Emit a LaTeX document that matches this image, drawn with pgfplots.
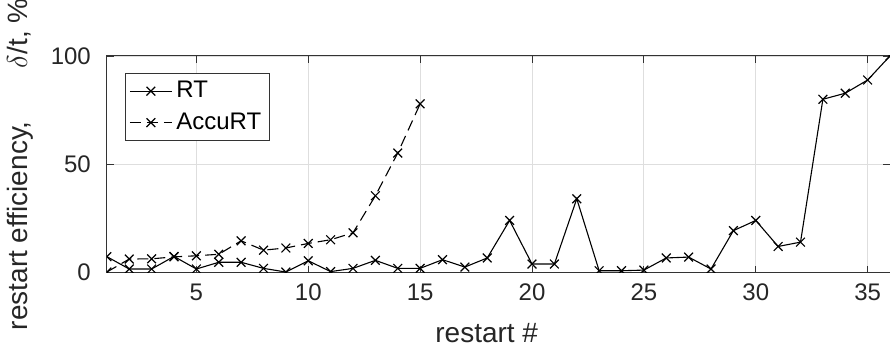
\documentclass[border=0pt]{standalone}
\usepackage{fontspec}
\setmainfont{Liberation Sans}
\usepackage{pgfplots}
\pgfplotsset{compat=1.18}
\begin{document}
\begin{tikzpicture}
\begin{axis}[
  scale only axis,
  width=392pt, height=108.5pt,
  xmin=1, xmax=36, ymin=0, ymax=100,
  xtick={5,10,...,35}, ytick={0,50,100},
  tick align=inside,
  major tick length=3.5pt,
  tick style={color=black!80, line width=0.4pt},
  axis line style={color=black!80, line width=0.5pt},
  grid=major,
  major grid style={color=black!13, line width=0.4pt},
  /pgf/number format/assume math mode=true,
  ticklabel style={font=\fontsize{12}{14}\selectfont, text=black!85},
  yticklabel style={xshift=-4.5pt},
  xticklabel style={yshift=-2pt},
  xlabel={restart \#},
  ylabel={restart efficiency,\hspace{1.9em}$\delta$/t, \%},
  label style={font=\fontsize{14}{16}\selectfont, text=black!85},
  xlabel style={at={(axis description cs:0.485,0)}, anchor=base, yshift=-35pt},
  ylabel style={at={(axis description cs:-0.0855,0.5)}, anchor=south},
  clip marker paths=true,
  legend style={at={(axis description cs:0,1)}, anchor=north west, xshift=9pt, yshift=-8.5pt,
    font=\fontsize{12}{14}\selectfont, draw=black!80, line width=0.5pt, inner sep=2pt,
    row sep=2pt, cells={anchor=west}},
  legend image code/.code={\draw[mark repeat=2,mark phase=2,#1] plot coordinates {(0pt,0pt) (10.5pt,0pt) (21pt,0pt)};},
]
\addplot[black, line width=0.55pt, mark=x, mark size=3.1pt, mark options={solid, line width=0.6pt}] coordinates {
(1,7.4) (2,1.7) (3,1.7) (4,7.5) (5,1.7) (6,4.8) (7,4.8) (8,2) (9,0.3) (10,5.5)
(11,0.5) (12,2) (13,5.7) (14,2) (15,2) (16,6) (17,2.6) (18,6.8) (19,24.1) (20,4)
(21,4) (22,34.1) (23,0.9) (24,0.9) (25,1.2) (26,6.8) (27,7.2) (28,1.7) (29,19.4) (30,24.1)
(31,12.1) (32,14.1) (33,80) (34,82.8) (35,88.9) (36,100)};
\addlegendentry{RT}
\addplot[black, line width=0.55pt, dash pattern=on 5.5pt off 3pt, mark=x, mark size=3.1pt, mark options={solid, line width=0.6pt}] coordinates {
(1,0.3) (2,6.3) (3,6.4) (4,7.3) (5,7.8) (6,8.5) (7,14.7) (8,10.4) (9,11.4) (10,13.5)
(11,15.2) (12,18.4) (13,35.5) (14,55.2) (15,77.9)};
\addlegendentry{AccuRT}
\end{axis}
\pgfresetboundingbox
\path[use as bounding box] ([xshift=-53.5pt,yshift=-40pt]current axis.south west) rectangle ([yshift=28pt]current axis.north east);
\end{tikzpicture}
\end{document}
